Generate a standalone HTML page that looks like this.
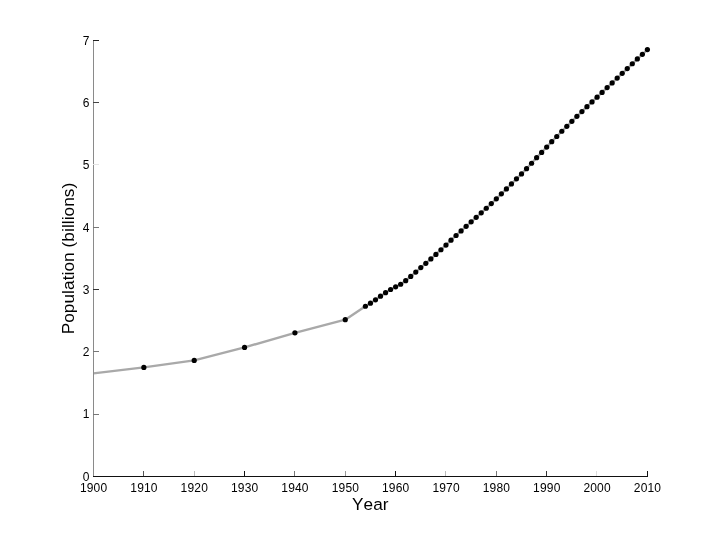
<!DOCTYPE html>
<html lang="en">
<head>
<meta charset="utf-8">
<title>World population</title>
<style>
html,body{margin:0;padding:0;background:#fff;}
body{width:715px;height:535px;overflow:hidden;}
svg{display:block;}
text{font-kerning:none;font-family:"Liberation Sans",Arial,Helvetica,sans-serif;fill:#000;}
.t{font-size:12px;letter-spacing:0.18px;}
.l{font-size:17.2px;letter-spacing:0.08px;}
</style>
</head>
<body>
<svg width="715" height="535" viewBox="0 0 715 535">
<rect x="0" y="0" width="715" height="535" fill="#fff"/>
<polyline points="93.50,373.38 143.85,367.40 194.21,360.42 244.56,347.41 294.92,332.83 345.27,319.63 365.41,306.24 370.45,303.18 375.49,299.82 380.52,296.21 385.56,292.66 390.59,289.48 395.63,286.86 400.66,284.25 405.70,280.70 410.73,276.46 415.77,272.10 420.80,267.62 425.84,263.32 430.88,258.96 435.91,254.41 440.95,249.74 445.98,245.07 451.02,240.21 456.05,235.48 461.09,230.93 466.12,226.32 471.16,221.78 476.19,217.29 481.23,212.81 486.27,208.26 491.30,203.53 496.34,198.79 501.37,193.87 506.41,188.89 511.44,183.91 516.48,178.86 521.51,173.88 526.55,168.65 531.58,163.23 536.62,157.68 541.66,152.45 546.69,147.03 551.73,141.68 556.76,136.51 561.80,131.27 566.83,126.29 571.87,121.31 576.90,116.33 581.94,111.53 586.97,106.67 592.01,101.88 597.05,97.20 602.08,92.41 607.12,87.61 612.15,82.88 617.19,78.08 622.22,73.35 627.26,68.55 632.29,63.76 637.33,58.96 642.36,54.29 647.40,49.62" fill="none" stroke="#a9a9a9" stroke-width="2.4" stroke-linejoin="round"/>
<g shape-rendering="crispEdges">
<rect x="93" y="40" width="1" height="437" fill="#8a8a8a"/>
<rect x="93" y="476" width="555" height="1" fill="#111"/>
<rect x="143" y="471" width="1" height="5" fill="#555"/>
<rect x="194" y="471" width="1" height="5" fill="#bbb"/>
<rect x="244" y="471" width="1" height="5" fill="#111"/>
<rect x="294" y="471" width="1" height="5" fill="#777"/>
<rect x="345" y="471" width="1" height="5" fill="#999"/>
<rect x="395" y="471" width="1" height="5" fill="#111"/>
<rect x="445" y="471" width="1" height="5" fill="#bbb"/>
<rect x="496" y="471" width="1" height="5" fill="#777"/>
<rect x="546" y="471" width="1" height="5" fill="#333"/>
<rect x="596" y="471" width="1" height="5" fill="#ddd"/>
<rect x="647" y="471" width="1" height="5" fill="#111"/>
<rect x="93" y="40" width="6" height="1" fill="#222"/>
<rect x="93" y="102" width="6" height="1" fill="#444"/>
<rect x="93" y="164" width="6" height="1" fill="#e4e4e4"/>
<rect x="93" y="227" width="6" height="1" fill="#777"/>
<rect x="93" y="289" width="6" height="1" fill="#333"/>
<rect x="93" y="351" width="6" height="1" fill="#777"/>
<rect x="93" y="414" width="6" height="1" fill="#777"/>
</g>
<g fill="#000">
<circle cx="143.85" cy="367.40" r="2.6"/>
<circle cx="194.21" cy="360.42" r="2.6"/>
<circle cx="244.56" cy="347.41" r="2.6"/>
<circle cx="294.92" cy="332.83" r="2.6"/>
<circle cx="345.27" cy="319.63" r="2.6"/>
<circle cx="365.41" cy="306.24" r="2.6"/>
<circle cx="370.45" cy="303.18" r="2.6"/>
<circle cx="375.49" cy="299.82" r="2.6"/>
<circle cx="380.52" cy="296.21" r="2.6"/>
<circle cx="385.56" cy="292.66" r="2.6"/>
<circle cx="390.59" cy="289.48" r="2.6"/>
<circle cx="395.63" cy="286.86" r="2.6"/>
<circle cx="400.66" cy="284.25" r="2.6"/>
<circle cx="405.70" cy="280.70" r="2.6"/>
<circle cx="410.73" cy="276.46" r="2.6"/>
<circle cx="415.77" cy="272.10" r="2.6"/>
<circle cx="420.80" cy="267.62" r="2.6"/>
<circle cx="425.84" cy="263.32" r="2.6"/>
<circle cx="430.88" cy="258.96" r="2.6"/>
<circle cx="435.91" cy="254.41" r="2.6"/>
<circle cx="440.95" cy="249.74" r="2.6"/>
<circle cx="445.98" cy="245.07" r="2.6"/>
<circle cx="451.02" cy="240.21" r="2.6"/>
<circle cx="456.05" cy="235.48" r="2.6"/>
<circle cx="461.09" cy="230.93" r="2.6"/>
<circle cx="466.12" cy="226.32" r="2.6"/>
<circle cx="471.16" cy="221.78" r="2.6"/>
<circle cx="476.19" cy="217.29" r="2.6"/>
<circle cx="481.23" cy="212.81" r="2.6"/>
<circle cx="486.27" cy="208.26" r="2.6"/>
<circle cx="491.30" cy="203.53" r="2.6"/>
<circle cx="496.34" cy="198.79" r="2.6"/>
<circle cx="501.37" cy="193.87" r="2.6"/>
<circle cx="506.41" cy="188.89" r="2.6"/>
<circle cx="511.44" cy="183.91" r="2.6"/>
<circle cx="516.48" cy="178.86" r="2.6"/>
<circle cx="521.51" cy="173.88" r="2.6"/>
<circle cx="526.55" cy="168.65" r="2.6"/>
<circle cx="531.58" cy="163.23" r="2.6"/>
<circle cx="536.62" cy="157.68" r="2.6"/>
<circle cx="541.66" cy="152.45" r="2.6"/>
<circle cx="546.69" cy="147.03" r="2.6"/>
<circle cx="551.73" cy="141.68" r="2.6"/>
<circle cx="556.76" cy="136.51" r="2.6"/>
<circle cx="561.80" cy="131.27" r="2.6"/>
<circle cx="566.83" cy="126.29" r="2.6"/>
<circle cx="571.87" cy="121.31" r="2.6"/>
<circle cx="576.90" cy="116.33" r="2.6"/>
<circle cx="581.94" cy="111.53" r="2.6"/>
<circle cx="586.97" cy="106.67" r="2.6"/>
<circle cx="592.01" cy="101.88" r="2.6"/>
<circle cx="597.05" cy="97.20" r="2.6"/>
<circle cx="602.08" cy="92.41" r="2.6"/>
<circle cx="607.12" cy="87.61" r="2.6"/>
<circle cx="612.15" cy="82.88" r="2.6"/>
<circle cx="617.19" cy="78.08" r="2.6"/>
<circle cx="622.22" cy="73.35" r="2.6"/>
<circle cx="627.26" cy="68.55" r="2.6"/>
<circle cx="632.29" cy="63.76" r="2.6"/>
<circle cx="637.33" cy="58.96" r="2.6"/>
<circle cx="642.36" cy="54.29" r="2.6"/>
<circle cx="647.40" cy="49.62" r="2.6"/>
</g>
<g class="t" text-anchor="middle">
<text x="93.6" y="491.6">1900</text>
<text x="144.0" y="491.6">1910</text>
<text x="194.3" y="491.6">1920</text>
<text x="244.7" y="491.6">1930</text>
<text x="295.0" y="491.6">1940</text>
<text x="345.4" y="491.6">1950</text>
<text x="395.7" y="491.6">1960</text>
<text x="446.1" y="491.6">1970</text>
<text x="496.4" y="491.6">1980</text>
<text x="546.8" y="491.6">1990</text>
<text x="597.1" y="491.6">2000</text>
<text x="647.5" y="491.6">2010</text>
</g>
<g class="t" text-anchor="end">
<text x="89.7" y="480.7">0</text>
<text x="89.7" y="418.4">1</text>
<text x="89.7" y="356.1">2</text>
<text x="89.7" y="293.8">3</text>
<text x="89.7" y="231.6">4</text>
<text x="89.7" y="169.3">5</text>
<text x="89.7" y="107.0">6</text>
<text x="89.7" y="44.7">7</text>
</g>
<text class="l" text-anchor="middle" x="370.3" y="510">Year</text>
<text class="l" text-anchor="middle" transform="translate(73.6,258.5) rotate(-90)">Population (billions)</text>
</svg>
</body>
</html>
